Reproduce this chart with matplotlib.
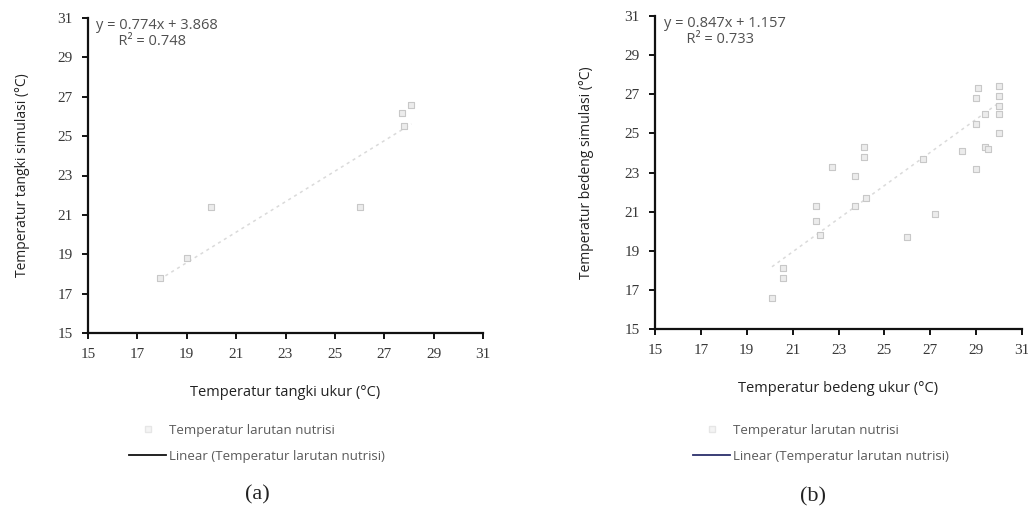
import matplotlib
matplotlib.use("Agg")
import matplotlib.pyplot as plt
from matplotlib.lines import Line2D
import numpy as np

# ---- data ----
tank_measured = [17.9, 19.0, 20.0, 26.0, 27.7, 27.8, 28.1]
tank_simulated = [17.8, 18.8, 21.4, 21.4, 26.2, 25.5, 26.6]
tank_slope, tank_intercept, tank_r2 = 0.774, 3.868, 0.748

bed_measured = [20.1, 20.6, 20.6, 22.0, 22.0, 22.2, 22.7, 23.7, 23.7, 24.1, 24.1, 24.2,
                26.0, 26.7, 27.2, 28.4, 29.0, 29.0, 29.1, 29.0, 29.4, 29.5, 30.0, 30.0,
                30.0, 30.0, 30.0, 29.4]
bed_simulated = [16.6, 17.6, 18.1, 21.3, 20.5, 19.8, 23.3, 22.8, 21.3, 24.3, 23.8, 21.7,
                 19.7, 23.7, 20.9, 24.1, 23.2, 25.5, 27.3, 26.8, 24.3, 24.2, 27.4, 26.9,
                 26.4, 26.0, 25.0, 26.0]
bed_slope, bed_intercept, bed_r2 = 0.847, 1.157, 0.733

ticks = [15, 17, 19, 21, 23, 25, 27, 29, 31]

series_label = "Temperatur larutan nutrisi"
trend_label = "Linear (Temperatur larutan nutrisi)"

W, H = 1028, 515
fig = plt.figure(figsize=(W / 100, H / 100), dpi=100)
fig.patch.set_facecolor("white")

def px_axes(x0, y0, x1, y1):
    return fig.add_axes([x0 / W, 1 - y1 / H, (x1 - x0) / W, (y1 - y0) / H])

ax1 = px_axes(88, 18, 483, 333)
ax2 = px_axes(655, 16, 1022, 329)

TICK_FONT = "Liberation Serif"
LABEL_FONT = "Open Sans"

def style(ax, xlabel, ylabel, ylabelpad):
    ax.set_xlim(15, 31)
    ax.set_ylim(15, 31)
    ax.set_xticks(ticks)
    ax.set_yticks(ticks)
    for s in ("top", "right"):
        ax.spines[s].set_visible(False)
    for s in ("left", "bottom"):
        ax.spines[s].set_linewidth(1.6)
        ax.spines[s].set_color("#111111")
    ax.tick_params(direction="out", length=4, width=1.4, color="#111111",
                   labelsize=11, labelcolor="#383838", pad=7)
    for lab in ax.get_xticklabels() + ax.get_yticklabels():
        lab.set_fontfamily(TICK_FONT)
    ax.set_xlabel(xlabel, fontfamily=LABEL_FONT, fontsize=10.5, color="#222222", labelpad=17)
    ax.set_ylabel(ylabel, fontfamily=LABEL_FONT, fontsize=10, color="#222222",
                  labelpad=ylabelpad)

def draw(ax, xs, ys, slope, intercept, r2, trend_color, eq_pos):
    ax.scatter(xs, ys, marker="s", s=18, facecolor="#ececec", edgecolor="#c8c8c8",
               linewidth=0.8, zorder=3)
    xr = np.array([min(xs), max(xs)])
    ax.plot(xr, slope * xr + intercept, color="#dadada", lw=1.1, ls=(0, (2, 2.5)), zorder=2)
    ax.text(eq_pos[0], eq_pos[1],
            f"y = {slope:.3f}x + {intercept:.3f}\n      R² = {r2:.3f}",
            transform=ax.transAxes, fontfamily=LABEL_FONT, fontsize=10.5,
            color="#505050", va="top", ha="left", linespacing=1.1)
    handles = [Line2D([], [], marker="s", ls="none", markersize=4,
                      markerfacecolor="#f4f4f4", markeredgecolor="#e6e6e6"),
               Line2D([], [], color=trend_color, lw=1.3)]
    return handles

style(ax1, "Temperatur tangki ukur (°C)", "Temperatur tangki simulasi (°C)", 20)
style(ax2, "Temperatur bedeng ukur (°C)", "Temperatur bedeng simulasi (°C)", 22)

h1 = draw(ax1, tank_measured, tank_simulated, tank_slope, tank_intercept, tank_r2,
          "#111111", (0.02, 1.0))
h2 = draw(ax2, bed_measured, bed_simulated, bed_slope, bed_intercept, bed_r2,
          "#2b2f6b", (0.025, 1.0))

for h, cx in ((h1, 257), (h2, 821)):
    fig.legend(h, [series_label, trend_label], loc="upper center",
               bbox_to_anchor=(cx / W, 1 - 412 / H), bbox_transform=fig.transFigure,
               frameon=False, prop={"family": LABEL_FONT, "size": 9.5},
               labelcolor="#5a5a5a", handlelength=2.8, handletextpad=0.2,
               labelspacing=1.0)

fig.text(257 / W, 1 - 495 / H, "(a)", fontfamily=TICK_FONT, fontsize=16,
         color="#222222", ha="center", va="center")
fig.text(813 / W, 1 - 497 / H, "(b)", fontfamily=TICK_FONT, fontsize=16,
         color="#222222", ha="center", va="center")

fig.savefig("out.png", dpi=100, facecolor="white")
